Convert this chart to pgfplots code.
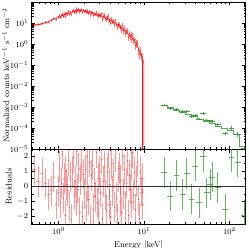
\documentclass[border=0pt]{standalone}
\usepackage{pgfplots}
\pgfplotsset{compat=1.18}
\usepackage{pgfplotstable}
\definecolor{dred}{RGB}{255,0,0}
\definecolor{dgreen}{RGB}{40,150,40}

\pgfplotstableread{
E xr y yr r
0.52 0.05 8.6 0.15 1.1
0.58 0.05 8.5 0.15 0.3
0.64 0.045 9.6 0.15 0.85
0.70 0.04 10.5 0.15 0.2
0.76 0.035 11.2 0.15 -0.55
0.82 0.035 13.0 0.15 -0.3
0.88 0.03 16.0 0.15 0.6
0.94 0.03 15.2 0.15 -1.2
1.000 0.0125 18.4 0.18 -0.4
1.025 0.0125 22.3 0.18 1.3
1.051 0.0125 18.6 0.18 -1.1
1.077 0.0125 21.9 0.18 0.2
1.104 0.0125 27.1 0.18 2.1
1.131 0.0125 21.6 0.18 -0.8
1.160 0.0125 25.3 0.18 0.5
1.189 0.0125 21.1 0.18 -1.9
1.218 0.0125 28.6 0.18 1.0
1.249 0.0125 27.4 0.18 0.1
1.280 0.0125 27.4 0.18 -0.3
1.312 0.0125 34.1 0.18 1.7
1.345 0.0125 26.5 0.18 -1.4
1.379 0.0125 33.0 0.18 0.6
1.413 0.0125 26.4 0.18 -2.2
1.448 0.0125 36.2 0.18 0.9
1.485 0.0125 40.9 0.18 1.9
1.522 0.0125 33.5 0.18 -0.6
1.560 0.0125 37.5 0.18 0.3
1.599 0.0125 34.0 0.18 -1.0
1.639 0.0125 46.9 0.18 2.3
1.680 0.0125 37.8 0.18 -0.2
1.722 0.0125 43.6 0.18 1.2
1.765 0.0125 33.9 0.18 -1.7
1.809 0.0125 40.9 0.18 0.4
1.854 0.0125 44.6 0.18 1.5
1.900 0.0125 31.8 0.18 -2.0
1.948 0.0125 40.6 0.18 0.8
1.996 0.0125 35.5 0.18 -0.5
2.046 0.0125 39.9 0.18 1.1
2.098 0.0125 31.0 0.18 -1.3
2.150 0.0125 40.8 0.18 2.0
2.204 0.0125 33.0 0.18 0.0
2.259 0.0125 29.4 0.18 -0.9
2.315 0.0125 36.1 0.18 1.6
2.373 0.0125 24.4 0.18 -2.3
2.433 0.0125 31.3 0.18 0.7
2.493 0.0125 32.4 0.18 1.4
2.556 0.0125 24.2 0.18 -1.5
2.620 0.0125 27.5 0.18 0.2
2.685 0.0125 24.7 0.18 -0.7
2.752 0.0125 31.6 0.18 2.2
2.821 0.0125 22.7 0.18 -1.1
2.892 0.0125 25.5 0.18 0.5
2.964 0.0125 20.0 0.18 -1.8
3.038 0.0125 25.2 0.18 1.0
3.114 0.0125 21.5 0.18 -0.4
3.192 0.0125 27.7 0.25 1.8
3.272 0.0125 15.5 0.25 -2.1
3.353 0.0125 20.8 0.25 0.3
3.437 0.0125 22.9 0.25 1.3
3.523 0.0125 16.9 0.25 -0.6
3.611 0.0125 14.1 0.25 -1.6
3.701 0.0125 18.8 0.25 0.9
3.794 0.0125 21.0 0.25 2.1
3.889 0.0125 12.6 0.25 -1.2
3.986 0.0125 14.3 0.25 0.1
4.086 0.0125 10.1 0.25 -2.0
4.188 0.0125 15.4 0.25 1.5
4.292 0.0125 11.3 0.25 -0.3
4.400 0.0125 12.4 0.25 0.8
4.510 0.0125 8.61 0.25 -1.4
4.622 0.0125 12.7 0.25 1.9
4.738 0.0125 8.15 0.25 -0.8
4.856 0.0125 6.27 0.25 -2.2
4.978 0.0125 8.61 0.25 0.6
5.102 0.0125 8.67 0.25 1.2
5.230 0.0125 5.92 0.25 -1.0
5.360 0.0125 6.62 0.25 0.4
5.494 0.0125 4.58 0.25 -1.7
5.632 0.0125 7.73 0.32 2.0
5.773 0.0125 4.45 0.32 -0.5
5.917 0.0125 5.43 0.32 1.1
6.065 0.0125 3.18 0.32 -1.3
6.216 0.0125 3.81 0.32 0.2
6.372 0.0125 4.56 0.32 1.7
6.531 0.0125 2.12 0.32 -1.9
6.694 0.0125 3.08 0.32 0.7
6.862 0.0125 2.36 0.32 -0.2
7.033 0.0125 2.85 0.32 1.4
7.209 0.0125 1.61 0.32 -1.1
7.389 0.0125 2.64 0.32 2.2
7.574 0.0125 1.41 0.32 -0.6
7.763 0.0125 1.66 0.32 0.9
7.958 0.0125 0.883 0.4 -1.5
8.157 0.0125 1.07 0.4 0.3
8.361 0.0125 1.16 0.4 1.6
8.570 0.0125 0.521 0.4 -0.9
8.784 0.0125 0.316 0.4 -2.1
9.004 0.0125 0.506 0.4 1.0
9.229 0.0125 0.277 0.4 -0.4
9.459 0.0125 0.259 0.4 0.5
9.696 0.0125 0.132 0.4 -1.2
}\reddata

\pgfplotstableread{
E xr y yr r
17.1 0.08 1.26e-3 0.15 0.89
20.1 0.08 8.7e-4 0.15 -0.67
24.1 0.08 7.9e-4 0.15 0.71
28.4 0.08 6.0e-4 0.15 -0.55
31.6 0.08 6.0e-4 0.15 0.83
36.1 0.08 3.7e-4 0.15 -0.84
39.5 0.08 4.0e-4 0.15 1.33
44.4 0.08 2.7e-4 0.15 -1.1
49.4 0.08 5.0e-4 0.15 1.95
54.1 0.08 2.4e-4 0.15 -0.44
59.2 0.08 2.2e-4 0.15 0.11
63.0 0.08 2.1e-4 0.15 0.6
72.8 0.08 1.5e-4 0.2 -0.1
88.5 0.08 5.6e-5 0.2 -1.55
106 0.08 1.02e-4 0.2 1.9
125 0.08 5.0e-5 0.25 1.6
148 0.08 1.1e-5 0.3 -1.9
}\greendata

\begin{document}
\begin{tikzpicture}[font=\fontsize{8.5}{10}\selectfont]
\pgfplotsset{
  every axis/.append style={
    scale only axis, width=213.8bp,
    xmode=log, xmin=0.487, xmax=154,
    tick align=inside,
    major tick length=3.5bp, minor tick length=2bp,
    axis line style={black, line width=0.5pt},
    every tick/.style={black, line width=0.4pt},
    ticklabel style={font=\fontsize{8.5}{10}\selectfont},
    label style={font=\fontsize{8.5}{10}\selectfont},
  },
  ebar/.style 2 args={draw=none, mark=none, forget plot,
    error bars/error mark=none,
    error bars/error bar style={draw=#1, opacity=#2, line width=0.6pt}},
}
\begin{axis}[name=top, height=147bp,
  ymode=log, ymin=1e-5, ymax=99,
  xticklabels={},
  ylabel={Normalized counts keV$^{-1}$ s$^{-1}$ cm$^{-2}$},
  ylabel style={at={(axis description cs:-0.088,0.5)}, anchor=south,
    font=\fontsize{8}{9.5}\selectfont},
]
\addplot[dred, line width=0.5pt] coordinates {
(0.501,7.59) (0.631,8.71) (0.794,12.6) (1.0,19.05) (1.122,22.9) (1.259,27.5)
(1.413,32.4) (1.585,37.2) (1.778,39.8) (1.995,37.2) (2.239,32.4) (2.512,28.2)
(2.818,25.1) (3.162,21.9) (3.548,18.2) (3.981,14.1) (4.467,10.7) (5.012,7.76)
(5.623,5.37) (6.310,3.47) (7.079,2.14) (7.943,1.26) (8.913,0.447) (9.772,0.158)
(10.0,0.15) (10.0,1e-7)
};
\addplot[ebar={dred}{0.5},
  error bars/.cd, x dir=both, x explicit relative, y dir=both, y explicit relative]
  table[x=E, y=y, x error=xr, y error=yr]{\reddata};
\addplot[ebar={dred}{0.9},
  error bars/.cd, x dir=both, x explicit, y dir=both, y explicit]
  coordinates {(9.55,0.17) += (0.1,0.05) -= (0.1,0.169999)};
\addplot[dgreen!80, line width=0.6pt, const plot] coordinates {
(15.85,1.2e-3) (18.62,9.33e-4) (21.88,7.24e-4) (25.70,5.62e-4) (30.20,4.47e-4)
(35.48,3.47e-4) (41.69,2.69e-4) (48.98,2.09e-4) (57.54,1.62e-4) (67.61,1.26e-4)
(79.43,1.0e-4) (93.33,7.76e-5) (109.6,5.0e-5) (128.8,1.41e-5) (151.4,1.41e-5)
};
\addplot[ebar={dgreen}{0.85},
  error bars/.cd, x dir=both, x explicit relative, y dir=both, y explicit relative]
  table[x=E, y=y, x error=xr, y error=yr]{\greendata};
\end{axis}
\begin{axis}[at={(top.south west)}, anchor=north west, height=75bp,
  ymin=-2.5, ymax=2.45, ytick={-2,-1,0,1,2}, minor y tick num=1,
  xlabel={Energy [keV]},
  ylabel={Residuals},
  ylabel style={at={(axis description cs:-0.076,0.5)}, anchor=south},
]
\addplot[ebar={dred}{0.4},
  error bars/.cd, x dir=both, x explicit relative, y dir=both, y explicit]
  table[x=E, y=r, x error=xr, y error expr=1]{\reddata};
\addplot[ebar={dgreen}{0.7},
  error bars/.cd, x dir=both, x explicit relative, y dir=both, y explicit]
  table[x=E, y=r, x error=xr, y error expr=1]{\greendata};
\addplot[black!80, line width=0.5pt] coordinates {(0.3,0) (300,0)};
\end{axis}
\pgfresetboundingbox
\path (top.north west) ++(-31.7bp,2bp) rectangle ++(249bp,-248bp);
\end{tikzpicture}
\end{document}
